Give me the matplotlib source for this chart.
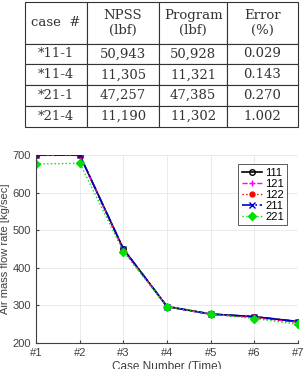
import matplotlib
matplotlib.use("Agg")
import matplotlib.pyplot as plt

# table data
col_labels = ["case  #", "NPSS\n(lbf)", "Program\n(lbf)", "Error\n(%)"]
cases = ["*11-1", "*11-4", "*21-1", "*21-4"]
npss = ["50,943", "11,305", "47,257", "11,190"]
program = ["50,928", "11,321", "47,385", "11,302"]
error = ["0.029", "0.143", "0.270", "1.002"]

# chart data
x_labels = ["#1", "#2", "#3", "#4", "#5", "#6", "#7"]
s111 = [700, 700, 450, 297, 277, 270, 257]
s121 = [699, 699, 447, 296, 276, 268, 255]
s122 = [699, 699, 447, 296, 276, 268, 255]
s211 = [700, 700, 450, 297, 277, 270, 257]
s221 = [676, 678, 443, 297, 277, 265, 250]

plt.rcParams["font.family"] = ["Liberation Sans", "DejaVu Sans"]

fig = plt.figure(figsize=(3.06, 3.69), dpi=100)

# table
tax = fig.add_axes([0.082, 0.656, 0.892, 0.339])
tax.axis("off")
cells = [[c, n, p, e] for c, n, p, e in zip(cases, npss, program, error)]
tbl = tax.table(cellText=[col_labels] + cells, loc="center", cellLoc="center",
                bbox=[0, 0, 1, 1], colWidths=[62, 72, 68, 71])
tbl.auto_set_font_size(False)
for (r, c), cell in tbl.get_celld().items():
    cell.set_linewidth(0.8)
    cell.set_edgecolor("#333333")
    cell.set_height(2.0 if r == 0 else 1.0)
    cell.get_text().set_fontfamily("DejaVu Serif")
    cell.get_text().set_fontsize(9.5)
    cell.get_text().set_color("#333333")

# line chart
ax = fig.add_axes([0.118, 0.0705, 0.856, 0.5095])
xs = range(len(x_labels))
ax.plot(xs, s111, color="black", ls="-", marker="o", mfc="none", ms=4, lw=1.2, label="111")
ax.plot(xs, s121, color="magenta", ls="--", marker="+", ms=5, lw=1.0, label="121")
ax.plot(xs, s122, color="red", ls=":", marker="o", ms=3.5, lw=1.0, label="122")
ax.plot(xs, s211, color="#0000cc", ls="-.", marker="x", ms=4, lw=1.2, label="211")
ax.plot(xs, s221, color="#00e000", ls=":", marker="D", ms=4, lw=1.0, label="221")

ax.set_xlim(0, 6)
ax.set_ylim(200, 700)
ax.set_xticks(list(xs))
ax.set_xticklabels(x_labels)
ax.set_yticks([200, 300, 400, 500, 600, 700])
ax.grid(True, color="#e6e6e6", lw=0.6)
ax.tick_params(labelsize=8, colors="#404040", length=2, direction="in")
for s in ["top", "right"]:
    ax.spines[s].set_visible(False)
for s in ["left", "bottom"]:
    ax.spines[s].set_color("#404040")
ax.set_ylabel("Air mass flow rate [kg/sec]", fontsize=8, color="#404040", labelpad=2)
ax.set_xlabel("Case Number (Time)", fontsize=8.5, color="#404040", labelpad=2)

leg = ax.legend(loc="upper right", bbox_to_anchor=(0.98, 0.98), fontsize=8,
                handlelength=1.8, handletextpad=0.3, borderpad=0.3,
                labelspacing=0.1, fancybox=False, edgecolor="#404040",
                framealpha=1)
leg.get_frame().set_linewidth(0.6)

fig.savefig("out.png", dpi=100)
